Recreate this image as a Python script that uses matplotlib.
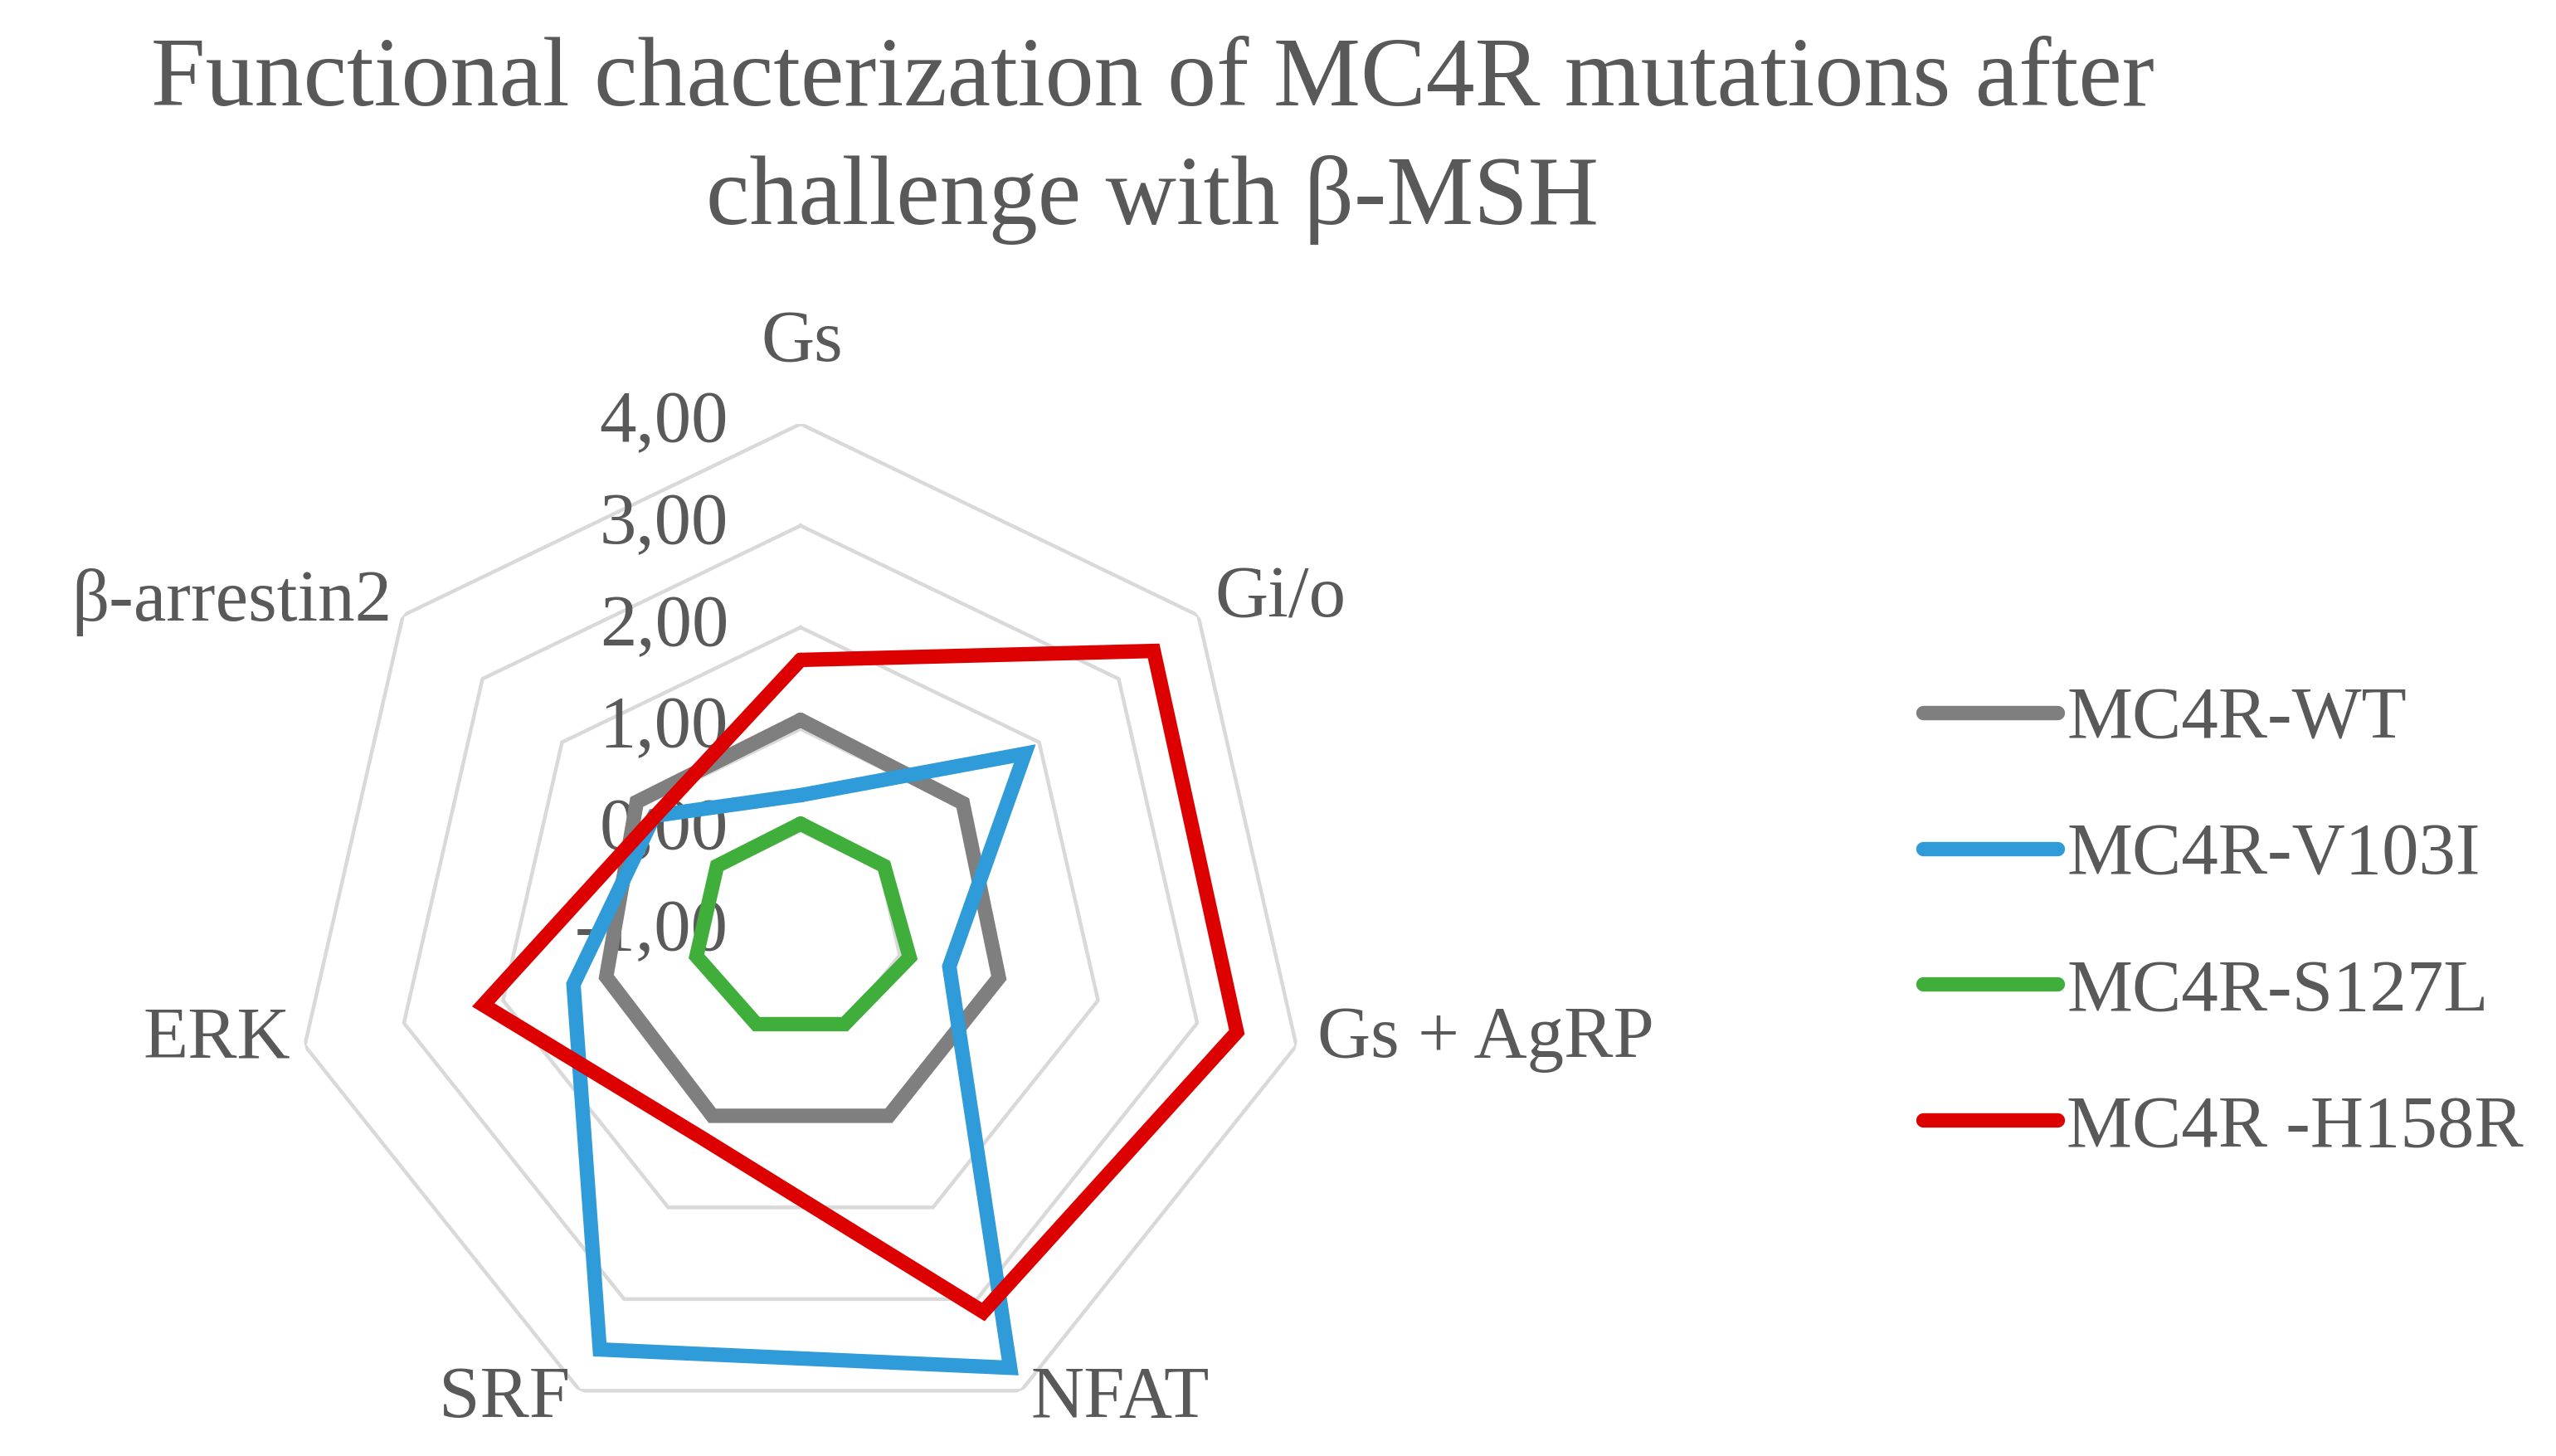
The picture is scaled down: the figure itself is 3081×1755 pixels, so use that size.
import numpy as np
import matplotlib
matplotlib.use('Agg')
import matplotlib.pyplot as plt

plt.rcParams['font.family'] = ['Liberation Serif', 'DejaVu Serif']

categories = ['Gs', 'Gi/o', 'Gs + AgRP', 'NFAT', 'SRF', 'ERK', 'β-arrestin2']
wt     = [1.09, 1.04, 1.00, 1.00, 1.00, 0.96, 1.06]
v103i  = [0.35, 1.82, 0.50, 3.75, 3.55, 1.29, 0.84]
s127l  = [0.07, 0.05, 0.10, 0.00, 0.00, 0.05, 0.05]
h158r  = [1.68, 3.44, 3.40, 3.14, 1.24, 2.20, 0.83]
series = ['MC4R-WT', 'MC4R-V103I', 'MC4R-S127L', 'MC4R -H158R']
colors = ['#7f7f7f', '#2f9bd8', '#3fae3a', '#dc0000']
levels = [0, 1, 2, 3, 4]

txt = '#595959'
W, H = 3081, 1755
fig = plt.figure(figsize=(W/100, H/100), dpi=100)

cx, cy, R = 965, 1124, 613
ax = fig.add_axes([(cx-R)/W, (H-cy-R)/H, 2*R/W, 2*R/H], projection='polar')
ax.set_theta_zero_location('N')
ax.set_theta_direction(-1)
ax.set_ylim(-1, 4)
ax.axis('off')

n = len(categories)
ang = np.arange(n) * 2*np.pi/n
ang_c = np.append(ang, ang[0])

for lv in levels:
    ax.plot(ang_c, [lv]*(n+1), color='#d9d9d9', lw=3.2, zorder=1)

for vals, lab, c in zip([wt, v103i, s127l, h158r], series, colors):
    ax.plot(ang_c, vals + vals[:1], color=c, lw=12.5, label=lab,
            solid_joinstyle='miter', solid_capstyle='round', zorder=3)

# radial tick labels
for lv in [-1] + levels:
    ax.annotate(('%.2f' % lv).replace('.', ','), xy=(0, lv), xytext=(-87, 0),
                textcoords='offset pixels', ha='right', va='center',
                fontsize=64, color=txt, zorder=2)

# category labels (offsets measured at half scale)
offs = [(1, 50, 'center'), (10, 10, 'left'), (13, 4, 'left'), (6, -5, 'left'),
        (-6, -5, 'right'), (-9, 4, 'right'), (-7, 8, 'right')]
for a, lab, (dx, dy, ha) in zip(ang, categories, offs):
    ax.annotate(lab, xy=(a, 4), xytext=(dx*1.965, dy*1.965),
                textcoords='offset pixels', ha=ha, va='center',
                fontsize=64, color=txt, annotation_clip=False)

fig.text(0.451, 1-170/H, 'Functional chacterization of MC4R mutations after\nchallenge with β-MSH',
         ha='center', va='center', fontsize=85, color=txt, linespacing=1.42)

fig.legend(loc='center left', bbox_to_anchor=(2318/W, 1-1114/H), frameon=False,
           fontsize=64, handlelength=1.82, handletextpad=0.13, labelspacing=0.93,
           borderpad=0, borderaxespad=0, labelcolor=txt)

fig.savefig('out.png', dpi=100)
